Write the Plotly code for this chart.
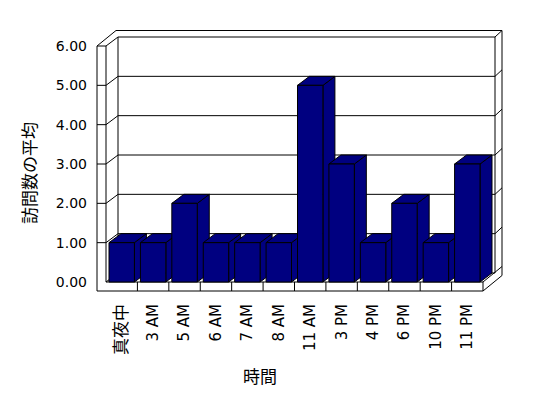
import plotly.graph_objects as go

# ---- data ----
categories = ["真夜中", "3 AM", "5 AM", "6 AM", "7 AM", "8 AM",
              "11 AM", "3 PM", "4 PM", "6 PM", "10 PM", "11 PM"]
values = [1, 1, 2, 1, 1, 1, 5, 3, 1, 2, 1, 3]
y_ticks = [0, 1, 2, 3, 4, 5, 6]
y_tick_labels = ["0.00", "1.00", "2.00", "3.00", "4.00", "5.00", "6.00"]
x_title = "時間"
y_title = "訪問数の平均"

# ---- geometry / style (pixel sizes converted to axis units) ----
W, H = 548, 398
PX_X = 31.4167          # pixels per category
PX_Y = 39.333           # pixels per value unit
ML, MR, MT, MB = 94, 42, 29, 104
X0_PX, Y0_PX = 106, 282  # where x=0 / y=0 land in the page
n = len(categories)
ymax = max(y_ticks)

x_rng = [(ML - X0_PX) / PX_X, (W - MR - X0_PX) / PX_X]
y_rng = [(Y0_PX - (H - MB)) / PX_Y, (Y0_PX - MT) / PX_Y]

DX, DY = 12 / PX_X, 9 / PX_Y        # depth of the 3D box
TX, TY = 7 / PX_X, 6.5 / PX_Y       # back wall thickness
WLX = 9 / PX_X                      # left wall thickness
FLY = 9 / PX_Y                      # floor thickness
GAP = 3 / PX_X                      # gap each side of a bar

NAVY = "#000080"

segs = []
def seg(*pts):
    segs.append(pts)

# back wall
seg((DX, ymax + DY), (n + DX, ymax + DY), (n + DX, DY))
seg((DX, ymax + DY), (DX, DY))
seg((-WLX + DX + TX, ymax + DY + TY), (n + DX + TX, ymax + DY + TY),
    (n + DX + TX, -FLY + DY + TY))
seg((n + DX, ymax + DY), (n + DX + TX, ymax + DY + TY))
# left wall
seg((-WLX, -FLY), (-WLX, ymax), (0, ymax), (0, 0))
seg((-WLX, ymax), (-WLX + DX + TX, ymax + DY + TY))
seg((0, ymax), (DX, ymax + DY))
# floor
seg((0, 0), (n, 0), (n, -FLY), (-WLX, -FLY))
seg((0, 0), (DX, DY), (n + DX, DY))
seg((n, 0), (n + DX + TX, DY + TY))
seg((n, -FLY), (n + DX + TX, -FLY + DY + TY))
for k in range(1, n):
    seg((k, 0), (k, -FLY))
# gridlines
for v in y_ticks[1:-1]:
    seg((-WLX, v), (0, v), (DX, v + DY), (n + DX, v + DY),
        (n + DX + TX, v + DY + TY))

lx, ly = [], []
for s in segs:
    for p in s:
        lx.append(p[0]); ly.append(p[1])
    lx.append(None); ly.append(None)

fig = go.Figure()
fig.add_trace(go.Scatter(x=lx, y=ly, mode="lines",
                         line=dict(color="black", width=1),
                         hoverinfo="skip", showlegend=False))

def poly_trace(polys):
    xs, ys = [], []
    for p in polys:
        for (a, b) in p + [p[0]]:
            xs.append(a); ys.append(b)
        xs.append(None); ys.append(None)
    return go.Scatter(x=xs, y=ys, mode="lines", fill="toself",
                      fillcolor=NAVY, line=dict(color="black", width=1),
                      hoverinfo="skip", showlegend=False)

sides, tops, fronts = [], [], []
for i, v in enumerate(values):
    x0, x1 = i + GAP, i + 1 - GAP
    sides.append([(x1, 0), (x1, v), (x1 + DX, v + DY), (x1 + DX, DY)])
    tops.append([(x0, v), (x1, v), (x1 + DX, v + DY), (x0 + DX, v + DY)])
    fronts.append([(x0, 0), (x1, 0), (x1, v), (x0, v)])

fig.add_trace(poly_trace(sides))
fig.add_trace(poly_trace(tops))
fig.add_trace(poly_trace(fronts))

ticktext = [f'<span style="font-size:17px">{c}</span>'
            if not c.isascii() else c for c in categories]

fig.update_layout(
    width=W, height=H,
    margin=dict(l=ML, r=MR, t=MT, b=MB),
    paper_bgcolor="white", plot_bgcolor="white",
    font=dict(family="DejaVu Sans, Noto Sans CJK JP", size=14, color="black"),
    showlegend=False,
    xaxis=dict(range=x_rng, showgrid=False, zeroline=False, showline=False,
               tickmode="array", tickvals=[i + 0.5 for i in range(n)],
               ticktext=ticktext, tickangle=-90, ticks="",
               tickfont=dict(size=15, color="black"),
               ticklabelstandoff=6, fixedrange=True),
    yaxis=dict(range=y_rng, showgrid=False, zeroline=False, showline=False,
               tickmode="array", tickvals=y_ticks, ticktext=y_tick_labels,
               tickfont=dict(size=14, color="black"),
               ticks="", ticklabelstandoff=6, fixedrange=True),
    annotations=[
        dict(text=x_title, xref="paper", yref="paper",
             x=(260 - ML) / (W - ML - MR), y=((H - MB) - 375) / (H - MT - MB),
             showarrow=False, xanchor="center", yanchor="middle",
             font=dict(family="Noto Sans CJK JP", size=17, color="black")),
        dict(text=y_title, xref="paper", yref="paper",
             x=(28 - ML) / (W - ML - MR), y=((H - MB) - 173) / (H - MT - MB),
             showarrow=False, xanchor="center", yanchor="middle", textangle=-90,
             font=dict(family="Noto Sans CJK JP", size=17, color="black")),
    ],
)

fig.write_html("out.html")
